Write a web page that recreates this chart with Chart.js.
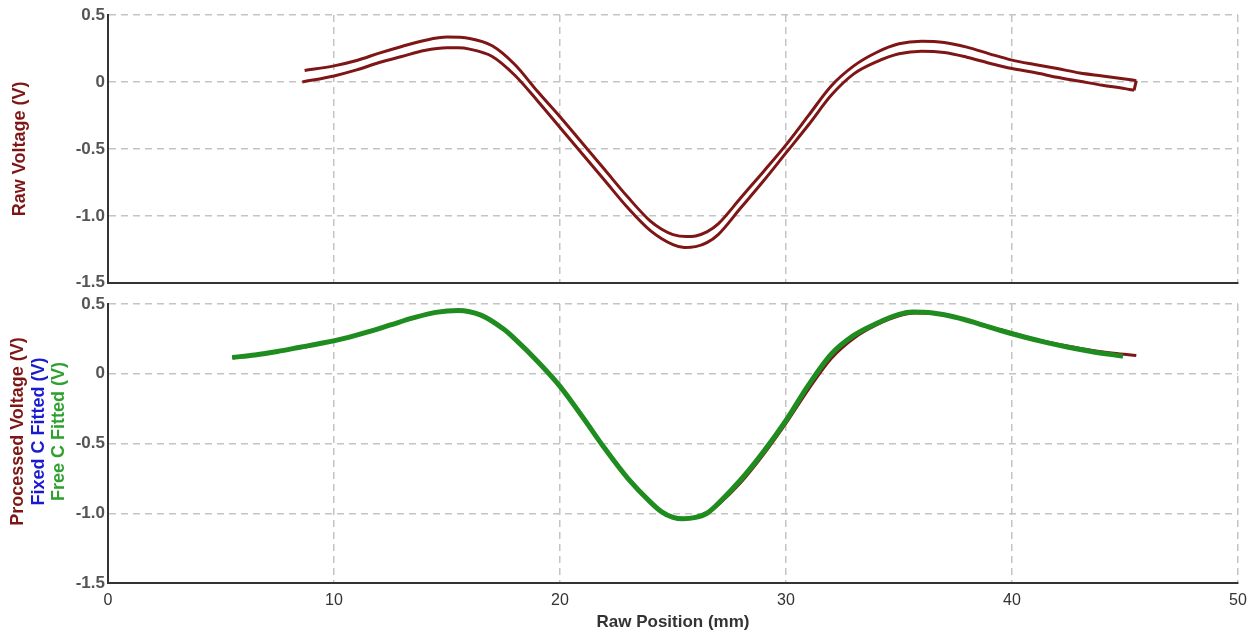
<!DOCTYPE html>
<html lang="en">
<head>
    <meta charset="UTF-8">
    <title>Raw and Processed Voltage</title>
    <style>
        body {
            margin: 0;
            background: #fff;
        }

        #wrap {
            position: relative;
            width: 1257px;
            height: 636px;
        }

        #topChart {
            position: absolute;
            left: 0;
            top: 0;
        }

        #bottomChart {
            position: absolute;
            left: 0;
            top: 290px;
        }
    </style>
    <script src="https://cdn.jsdelivr.net/npm/chart.js"></script>
</head>
<body>
    <div id="wrap">
        <canvas id="topChart" width="1257" height="296"></canvas>
        <canvas id="bottomChart" width="1257" height="346"></canvas>
    </div>

    <script>
        // Axis ticks
        const xTicks = [0, 10, 20, 30, 40, 50];
        const yTicks = [-1.5, -1.0, -0.5, 0, 0.5];

        // Top panel: raw voltage, forward pass (upper) and return pass (lower)
        const rawUpperX = [8.7, 10, 11, 12, 13, 14, 15, 16, 17, 18, 19, 20, 21, 22, 23, 24, 24.5, 25, 25.6, 26, 26.5, 27, 28, 29, 30, 31, 32, 33, 34, 35, 36, 37, 38, 39, 40, 41, 42, 43, 44, 45, 45.5];
        const rawUpperY = [0.085, 0.12, 0.16, 0.215, 0.265, 0.31, 0.335, 0.325, 0.27, 0.13, -0.07, -0.26, -0.46, -0.66, -0.86, -1.04, -1.1, -1.14, -1.155, -1.15, -1.12, -1.06, -0.865, -0.67, -0.47, -0.25, -0.03, 0.12, 0.22, 0.285, 0.304, 0.295, 0.26, 0.21, 0.163, 0.13, 0.1, 0.067, 0.045, 0.022, 0.01];
        const rawLowerX = [8.6, 10, 11, 12, 13, 14, 15, 15.5, 16, 17, 18, 19, 20, 21, 22, 23, 24, 25, 25.5, 26, 26.5, 27, 28, 29, 30, 31, 32, 33, 34, 35, 36, 37, 38, 39, 40, 41, 42, 43, 44, 45, 45.4];
        const rawLowerY = [0.0, 0.045, 0.09, 0.145, 0.19, 0.235, 0.255, 0.255, 0.245, 0.19, 0.05, -0.14, -0.34, -0.54, -0.74, -0.94, -1.11, -1.215, -1.236, -1.23, -1.2, -1.14, -0.94, -0.74, -0.53, -0.32, -0.1, 0.06, 0.15, 0.21, 0.23, 0.22, 0.185, 0.14, 0.1, 0.07, 0.035, 0.005, -0.025, -0.05, -0.063];

        // Bottom panel: processed voltage and the two fits
        const procX = [8.7, 9.5, 10.5, 11.5, 12.5, 13.5, 14.5, 15.5, 16.5, 17.5, 18, 19, 20, 21, 22, 23, 24, 24.5, 25, 25.45, 26, 26.5, 27, 28, 29, 30, 31, 32, 33, 34, 35, 35.7, 36.5, 37.5, 38.5, 39.5, 40.5, 41.5, 42.5, 43.5, 44.5, 45.5];
        const procY = [0.19, 0.22, 0.255, 0.3, 0.35, 0.4, 0.44, 0.452, 0.418, 0.32, 0.25, 0.09, -0.09, -0.31, -0.54, -0.75, -0.92, -0.99, -1.03, -1.04, -1.03, -1.005, -0.94, -0.78, -0.58, -0.355, -0.11, 0.11, 0.255, 0.35, 0.415, 0.435, 0.432, 0.405, 0.362, 0.315, 0.27, 0.23, 0.197, 0.168, 0.147, 0.131];
        const fixedFitX = [5.5, 6.5, 7.5, 8.5, 9.5, 10.5, 11.5, 12.5, 13.5, 14.5, 15.5, 16.5, 17.5, 18, 19, 20, 21, 22, 23, 24, 24.5, 25, 25.45, 26, 26.5, 27, 28, 29, 30, 31, 32, 33, 34, 35, 35.6, 36.5, 37.5, 38.5, 39.5, 40.5, 41.5, 42.5, 43.5, 44.9];
        const fixedFitY = [0.117, 0.135, 0.16, 0.19, 0.22, 0.255, 0.3, 0.35, 0.4, 0.44, 0.453, 0.42, 0.32, 0.25, 0.09, -0.09, -0.31, -0.54, -0.75, -0.92, -0.99, -1.03, -1.04, -1.03, -1.0, -0.93, -0.765, -0.565, -0.34, -0.09, 0.135, 0.27, 0.358, 0.423, 0.44, 0.434, 0.404, 0.36, 0.31, 0.265, 0.225, 0.19, 0.16, 0.126];
        const freeFitX = [5.5, 6.5, 7.5, 8.5, 9.5, 10.5, 11.5, 12.5, 13.5, 14.5, 15.5, 16.5, 17.5, 18, 19, 20, 21, 22, 23, 24, 24.5, 25, 25.45, 26, 26.5, 27, 28, 29, 30, 31, 32, 33, 34, 35, 35.6, 36.5, 37.5, 38.5, 39.5, 40.5, 41.5, 42.5, 43.5, 44.9];
        const freeFitY = [0.117, 0.135, 0.16, 0.19, 0.22, 0.255, 0.3, 0.35, 0.4, 0.44, 0.454, 0.42, 0.32, 0.25, 0.09, -0.09, -0.31, -0.54, -0.75, -0.92, -0.99, -1.03, -1.04, -1.03, -1.0, -0.93, -0.76, -0.56, -0.335, -0.08, 0.14, 0.275, 0.36, 0.425, 0.442, 0.435, 0.405, 0.36, 0.31, 0.265, 0.225, 0.19, 0.16, 0.126];

        const darkRed = '#7e1616';
        const fitBlue = '#1a1ad0';
        const fitGreen = '#1f8c1f';
        const gridColor = '#c4c4c4';
        const axisColor = '#333';

        function toPoints(xs, ys) {
            return xs.map((x, i) => ({ x: x, y: ys[i] }));
        }

        function lineSet(data, color, width) {
            return {
                data: data,
                showLine: true,
                borderColor: color,
                backgroundColor: color,
                borderWidth: width,
                pointRadius: 0,
                cubicInterpolationMode: 'monotone',
                fill: false
            };
        }

        // draws the rotated (multi-coloured) y titles on the left
        const sideTitles = {
            id: 'sideTitles',
            afterDraw(chart, args, opts) {
                const ctx = chart.ctx;
                const mid = (chart.chartArea.top + chart.chartArea.bottom) / 2 + (opts.shift || 0);
                opts.lines.forEach(l => {
                    ctx.save();
                    ctx.translate(l.x, mid);
                    ctx.rotate(-Math.PI / 2);
                    ctx.font = 'bold 18px "Liberation Sans", Arial, sans-serif';
                    ctx.fillStyle = l.color;
                    ctx.textAlign = 'center';
                    ctx.textBaseline = 'middle';
                    ctx.fillText(l.text, 0, 0);
                    ctx.restore();
                });
            }
        };

        function makeOptions(showX, xHeight, padTop, titleLines, titleShift) {
            return {
                responsive: false,
                animation: false,
                events: [],
                layout: { padding: { top: padTop, right: 19, left: 0, bottom: 0 } },
                plugins: {
                    legend: { display: false },
                    tooltip: { enabled: false },
                    sideTitles: { lines: titleLines, shift: titleShift }
                },
                scales: {
                    x: {
                        type: 'linear',
                        min: 0,
                        max: 50,
                        afterBuildTicks: s => { s.ticks = xTicks.map(v => ({ value: v })); },
                        afterFit: s => { s.height = xHeight; },
                        grid: { color: gridColor, lineWidth: 1.5, drawTicks: false },
                        border: { display: true, color: axisColor, width: 2, dash: [7, 5] },
                        ticks: {
                            display: showX,
                            padding: 8,
                            color: '#333',
                            font: { family: "'Liberation Sans Narrow', 'Liberation Sans', Arial, sans-serif", size: 16 }
                        },
                        title: {
                            display: showX,
                            text: 'Raw Position (mm)',
                            color: '#333',
                            padding: { top: 4, bottom: 3 },
                            font: { family: "'Liberation Sans Narrow', 'Liberation Sans', Arial, sans-serif", size: 17, weight: 'bold' }
                        }
                    },
                    y: {
                        type: 'linear',
                        min: -1.5,
                        max: 0.5,
                        afterBuildTicks: s => { s.ticks = yTicks.map(v => ({ value: v })); },
                        afterFit: s => { s.width = 108; },
                        grid: { color: gridColor, lineWidth: 1.5, drawTicks: false },
                        border: { display: true, color: axisColor, width: 2, dash: [7, 5] },
                        ticks: {
                            padding: 3,
                            color: '#555',
                            font: { family: "'Liberation Sans', Arial, sans-serif", size: 17, weight: 'bold' },
                            callback: v => v === 0 ? '0' : v.toFixed(1)
                        }
                    }
                }
            };
        }

        const upper = toPoints(rawUpperX, rawUpperY);
        const lower = toPoints(rawLowerX, rawLowerY);
        const joint = [upper[upper.length - 1], lower[lower.length - 1]];

        new Chart(document.getElementById('topChart'), {
            type: 'scatter',
            data: {
                datasets: [
                    lineSet(upper, darkRed, 3),
                    lineSet(lower, darkRed, 3),
                    Object.assign(lineSet(joint, darkRed, 3), { cubicInterpolationMode: 'default', tension: 0 })
                ]
            },
            options: makeOptions(false, 8, 15, [
                { text: 'Raw Voltage (V)', color: darkRed, x: 20 }
            ], 0),
            plugins: [sideTitles]
        });

        new Chart(document.getElementById('bottomChart'), {
            type: 'scatter',
            data: {
                datasets: [
                    lineSet(toPoints(freeFitX, freeFitY), fitGreen, 5),
                    lineSet(toPoints(fixedFitX, fixedFitY), fitBlue, 3),
                    lineSet(toPoints(procX, procY), darkRed, 3)
                ]
            },
            options: makeOptions(true, 53, 14, [
                { text: 'Processed Voltage (V)', color: darkRed, x: 18 },
                { text: 'Fixed C Fitted (V)', color: fitBlue, x: 39 },
                { text: 'Free C Fitted (V)', color: '#2ea02e', x: 59 }
            ], -12),
            plugins: [sideTitles]
        });
    </script>
</body>
</html>
